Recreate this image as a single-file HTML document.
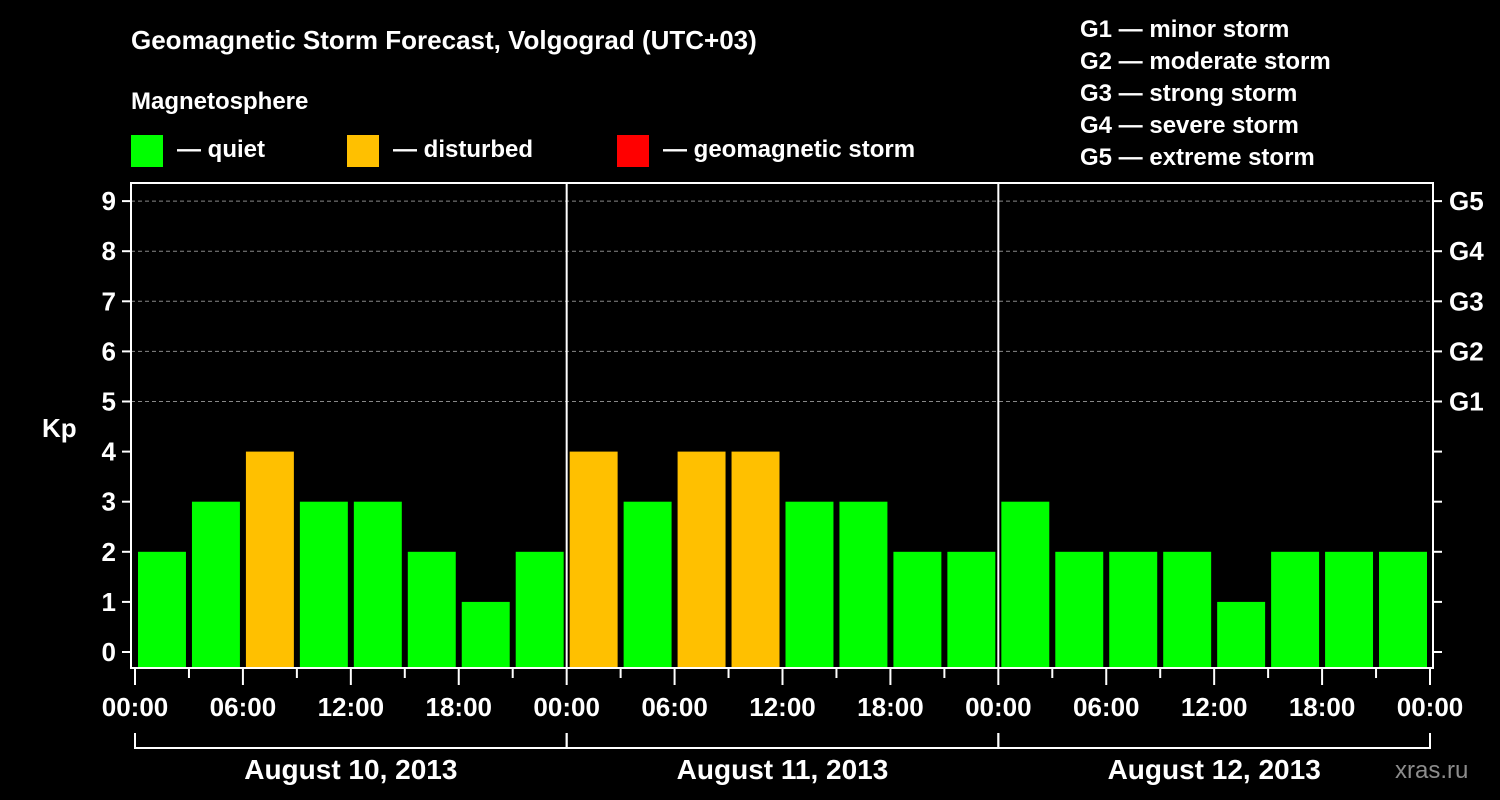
<!DOCTYPE html>
<html><head><meta charset="utf-8"><style>
html,body{margin:0;padding:0;background:#000;width:1500px;height:800px;overflow:hidden}
svg text{font-family:"Liberation Sans",Arial,sans-serif;font-weight:bold;fill:#fff}
</style></head><body>
<svg id="chart" width="1500" height="800" xmlns="http://www.w3.org/2000/svg">
<text x="131" y="49" font-size="26">Geomagnetic Storm Forecast, Volgograd (UTC+03)</text>
<text x="131" y="109" font-size="24">Magnetosphere</text>
<g><rect x="131" y="135" width="32" height="32" fill="#00ff00"/><text x="177" y="157" font-size="24">— quiet</text></g>
<g><rect x="347" y="135" width="32" height="32" fill="#ffc000"/><text x="393" y="157" font-size="24">— disturbed</text></g>
<g><rect x="617" y="135" width="32" height="32" fill="#ff0000"/><text x="663" y="157" font-size="24">— geomagnetic storm</text></g>
<g font-size="24">
<text x="1080" y="37">G1 — minor storm</text>
<text x="1080" y="69">G2 — moderate storm</text>
<text x="1080" y="101">G3 — strong storm</text>
<text x="1080" y="133">G4 — severe storm</text>
<text x="1080" y="165">G5 — extreme storm</text>
</g>
<text x="42" y="437" font-size="26">Kp</text>
<text x="1395" y="778" font-size="24" fill="#999" style="fill:#8c8c8c;font-weight:normal">xras.ru</text>
<g id="grid"></g><g id="bars"></g><g id="axes"></g>
</svg>
<script>
const days = ["August 10, 2013","August 11, 2013","August 12, 2013"];
const kpValues = [2,3,4,3,3,2,1,2, 4,3,4,4,3,3,2,2, 3,2,2,2,1,2,2,2];
const timeLabels = ["00:00","06:00","12:00","18:00"];
const gLabels = ["G1","G2","G3","G4","G5"];
const NS="http://www.w3.org/2000/svg";
const L=131,R=1433,T=183,B=668,X0=135,X1=1430;
const y=v=>652-v*50.1;
const x=h=>X0+(X1-X0)*h/72;
function mk(tag,attrs,parent,txt){const e=document.createElementNS(NS,tag);for(const k in attrs)e.setAttribute(k,attrs[k]);if(txt!==undefined)e.textContent=txt;document.getElementById(parent).appendChild(e);return e;}
for(let v=5;v<=9;v++){const e=mk('line',{x1:L,x2:R,y1:y(v),y2:y(v),stroke:'#888','stroke-dasharray':'4,3','stroke-width':1},'grid');

}
kpValues.forEach((v,i)=>{const c=v>=5?'#ff0000':(v>=4?'#ffc000':'#00ff00');
const e=mk('rect',{x:x(i*3)+3,y:y(v),width:(x(3)-x(0))-6,height:B-y(v),fill:c},'bars');

});
const fr=mk('rect',{x:L,y:T,width:R-L,height:B-T,fill:'none',stroke:'#fff','stroke-width':2},'axes');


for(let d=1;d<days.length;d++){mk('line',{x1:x(d*24),x2:x(d*24),y1:T,y2:B,stroke:'#fff','stroke-width':2},'axes');}
for(let v=0;v<=9;v++){mk('line',{x1:122,x2:L,y1:y(v),y2:y(v),stroke:'#fff','stroke-width':2},'axes');
mk('line',{x1:R,x2:1442,y1:y(v),y2:y(v),stroke:'#fff','stroke-width':2},'axes');
const t=mk('text',{x:116,y:y(v)+9,'font-size':26,'text-anchor':'end'},'axes',String(v));

}
gLabels.forEach((g,i)=>{const t=mk('text',{x:1449,y:y(5+i)+9,'font-size':26},'axes',g);

});
for(let h=0;h<=72;h+=3){const maj=h%6===0;mk('line',{x1:x(h),x2:x(h),y1:B,y2:maj?685:678,stroke:'#fff','stroke-width':2},'axes');
if(maj&&h%6===0&&(h%24)%6===0){}}
for(let h=0;h<=72;h+=6){const lbl=(h===72)?timeLabels[0]:timeLabels[(h%24)/6];
const t=mk('text',{x:x(h),y:716,'font-size':26,'text-anchor':'middle'},'axes',lbl);

}
days.forEach((d,i)=>{const a=x(i*24),b=x(i*24+24);
mk('path',{d:`M${a},733V748H${b}V733`,fill:'none',stroke:'#fff','stroke-width':2},'axes');
const t=mk('text',{x:(a+b)/2,y:779,'font-size':28,'text-anchor':'middle'},'axes',d);

});
</script>
</body></html>
